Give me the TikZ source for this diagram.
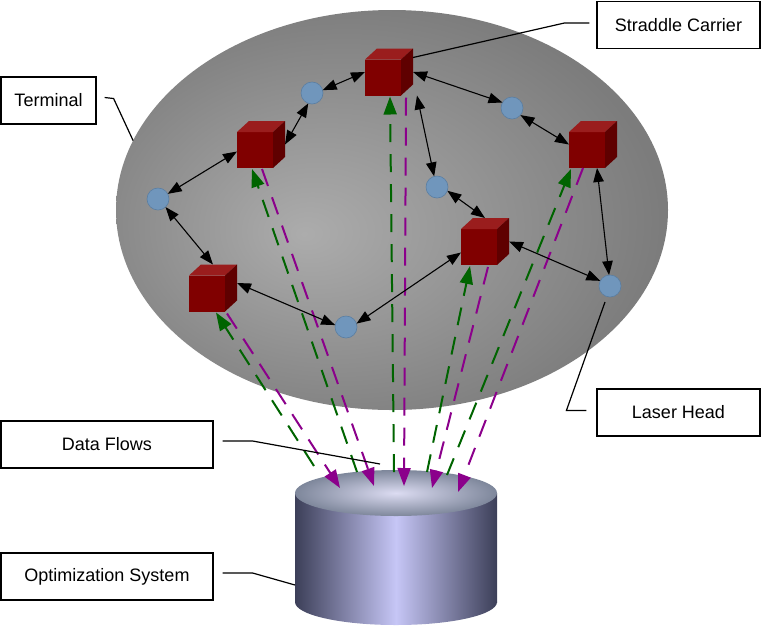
\documentclass[tikz,border=0pt]{standalone}
\usepackage{fontspec}
\setmainfont{Liberation Sans}
\usetikzlibrary{arrows.meta,shapes.geometric,calc}

\definecolor{termin}{HTML}{ACACAC}
\definecolor{termout}{HTML}{7C7C7C}
\definecolor{cyldark}{HTML}{3C3F58}
\definecolor{cyllight}{HTML}{C6C6F6}
\definecolor{topin}{HTML}{DCDCF2}
\definecolor{topout}{HTML}{7E879B}
\definecolor{cubefront}{HTML}{800000}
\definecolor{cubetop}{HTML}{9A1D1D}
\definecolor{cubeside}{HTML}{5F0000}
\definecolor{headfill}{HTML}{7096BC}
\definecolor{headline}{HTML}{5A7EA2}
\definecolor{flowgreen}{HTML}{006400}
\definecolor{flowpurple}{HTML}{8B008B}

\pgfdeclareradialshading{termshade}{\pgfpoint{-8bp}{-3bp}}{color(0bp)=(termin); color(28bp)=(termout); color(50bp)=(termout)}
\pgfdeclareradialshading{topshade}{\pgfpoint{0bp}{0bp}}{color(0bp)=(topin); color(25bp)=(topout); color(50bp)=(topout)}
\pgfdeclarehorizontalshading{sideshade}{100bp}{color(0bp)=(cyldark); color(25bp)=(cyldark); color(50bp)=(cyllight); color(75bp)=(cyldark); color(100bp)=(cyldark)}

\begin{document}
\begin{tikzpicture}[x=1pt,y=-1pt,
  infobox/.style={draw,line width=1.2pt,minimum width=#1,minimum height=47pt,inner sep=0pt,font=\fontsize{18}{22}\selectfont},
  carrier/.style={minimum width=48pt,minimum height=47pt,inner sep=0pt,outer sep=0pt},
  head/.style={circle,fill=headfill,draw=headline,line width=0.6pt,minimum size=22pt,inner sep=0pt,outer sep=0pt},
  link/.style={{Triangle[length=14pt,width=10.5pt]}-{Triangle[length=14pt,width=10.5pt]},line width=1.1pt},
  upflow/.style={-{Triangle[length=18pt,width=13pt]},draw=flowgreen,line width=2pt,dash pattern=on 18pt off 12pt},
  downflow/.style={-{Triangle[length=18pt,width=13pt]},draw=flowpurple,line width=2pt,dash pattern=on 18pt off 12pt},
  leader/.style={line width=1.2pt}]
\useasboundingbox (0,0) rectangle (762,625);

% terminal area
\node[ellipse,minimum width=552pt,minimum height=400pt,inner sep=0pt,outer sep=0pt,shade,shading=termshade] (terminal) at (392,210) {};

% optimization system
\shade[shading=sideshade] (295,493) rectangle (497,602);
\shade[shading=sideshade] (396,602) ellipse [x radius=101, y radius=23];
\node[ellipse,minimum width=202pt,minimum height=46pt,inner sep=0pt,outer sep=0pt,shade,shading=topshade] (opt) at (396,493) {};

% straddle carriers
\node[carrier] (A) at (389,72) {};
\node[carrier] (B) at (261,144.5) {};
\node[carrier] (C) at (593,144.5) {};
\node[carrier] (D) at (485,241.5) {};
\node[carrier] (E) at (213,288) {};
\foreach \cb in {A,B,C,D,E}{
  \fill[cubefront] (\cb.south west) rectangle ++(36,-36);
  \fill[cubetop] ($(\cb.south west)+(0,-36)$) -- ++(12,-11) -- ++(36,0) -- ++(-12,11) -- cycle;
  \fill[cubeside] ($(\cb.south west)+(36,0)$) -- ++(12,-11) -- ++(0,-36) -- ++(-12,11) -- cycle;
}

% laser heads
\node[head] (h1) at (312,93) {};
\node[head] (h2) at (512,108) {};
\node[head] (h3) at (158,199) {};
\node[head] (h4) at (437,187) {};
\node[head] (h5) at (346,327) {};
\node[head] (h6) at (610,286) {};

% data flows
\coordinate (gE) at (314,466);
\coordinate (gB) at (357,472);
\coordinate (gA) at (394,472);
\coordinate (gD) at (427,472);
\coordinate (gC) at (447,475);
\coordinate (pE) at (340,488);
\coordinate (pB) at (374,486);
\coordinate (pA) at (404,486);
\coordinate (pD) at (432,488);
\coordinate (pC) at (458,492);
\draw[upflow] (gE) -- ($(E.south west)+(27,1)$);
\draw[upflow] (gB) -- ($(B.south west)+(15,1)$);
\draw[upflow] (gA) -- ($(A.south west)+(25,1)$);
\draw[upflow] (gD) -- ($(D.south west)+(9,1)$);
\draw[upflow] (gC) -- ($(C.south west)+(2,1)$);
\draw[downflow] ($(E.south west)+(38,2)$) -- (pE);
\draw[downflow] ($(B.south west)+(25,1)$) -- (pB);
\draw[downflow] ($(A.south west)+(41,2)$) -- (pA);
\draw[downflow] ($(D.south west)+(27,2)$) -- (pD);
\draw[downflow] ($(C.south west)+(14,0)$) -- (pC);

% links
\draw[link] (h1.15) -- (A.west);
\draw[link] (h1.250) -- (B.east);
\draw[link] ([yshift=-7pt]B.west) -- (h3.28);
\draw[link] (h3.-47) -- (E.north);
\draw[link] ([yshift=5pt]E.east) -- (h5.170);
\draw[link] (h5.18) -- ([yshift=-11pt]D.west);
\draw[link] (D.north) -- (h4.-20);
\draw[link] (h4.105) -- ([xshift=4pt]A.south east);
\draw[link] (A.east) -- (h2.150);
\draw[link] (h2.-40) -- (C.west);
\draw[link] ([xshift=4pt]C.south) -- (h6.95);
\draw[link] (D.east) -- (h6.152);

% labels
\node[infobox=95pt] (termbox) at (48.5,100.5) {Terminal};
\node[infobox=163pt] (scbox) at (678.5,25) {Straddle Carrier};
\node[infobox=163pt] (lhbox) at (678.5,412.5) {Laser Head};
\node[infobox=212pt] (flowbox) at (107,444.5) {Data Flows};
\node[infobox=212pt] (optbox) at (107,576.5) {Optimization System};
\coordinate (dfend) at (380,464);
\draw[leader] ([xshift=8pt,yshift=3pt]termbox.east) -- ++(9,1) -- (terminal.165);
\draw[leader] ([xshift=-7pt,yshift=2pt]scbox.west) -- ++(-25,0) -- ([yshift=-9pt]A.north east);
\draw[leader] ([xshift=-10pt,yshift=2pt]lhbox.west) -- ++(-20,0) -- ([shift={(-5pt,-5pt)}]h6.south);
\draw[leader] ([xshift=9pt,yshift=3.5pt]flowbox.east) -- ++(30,0) -- (dfend);
\draw[leader] ([xshift=9pt,yshift=3.5pt]optbox.east) -- ++(30,0) -- ($(opt.west)+(0,92)$);
\end{tikzpicture}
\end{document}
